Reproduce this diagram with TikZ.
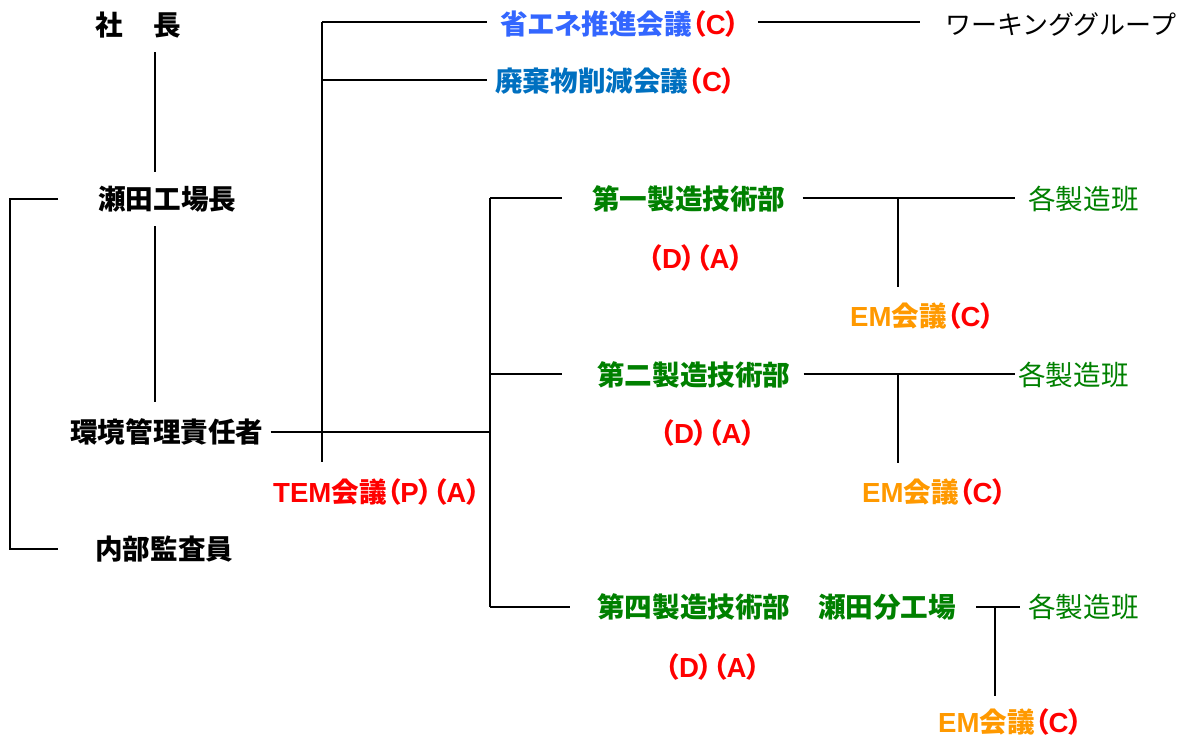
\documentclass[tikz,border=0pt]{standalone}
\usepackage{fontspec}
\setmainfont{Noto Sans CJK JP}[RawFeature=+palt]
\newfontfamily\plainjp{Noto Sans CJK JP}
\newfontfamily\latfont{Liberation Sans}
\newcommand{\lt}[1]{{\latfont\bfseries #1}}
\definecolor{blueA}{HTML}{3366FF}
\definecolor{blueB}{HTML}{0070C0}
\definecolor{grn}{HTML}{008000}
\definecolor{org}{HTML}{FF9900}
\definecolor{rd}{HTML}{FF0000}
\begin{document}
\begin{tikzpicture}[x=1pt,y=-1pt,
  every node/.style={inner sep=0pt, anchor=west, font=\fontsize{27.6}{30}\selectfont\bfseries},
  blk/.style={text=black},
  blueAtxt/.style={text=blueA},
  blueBtxt/.style={text=blueB},
  grntxt/.style={text=grn},
  grnlight/.style={text=grn, font=\fontsize{27.6}{30}\selectfont\plainjp},
  redtxt/.style={text=rd},
  orgtxt/.style={text=org},
  ln/.style={line width=1.6pt, black}]
\useasboundingbox (0,0) rectangle (1186,740);
% left column
\node[blk] (shacho) at (95,25) {社\hspace{31pt}長};
\node[blk] (setacho) at (98,199) {瀬田工場長};
\node[blk] (kankyo) at (70,432) {環境管理責任者};
\node[blk] (naibu) at (95,549) {内部監査員};
% meetings
\node[blueAtxt] (shoene) at (500,24) {省エネ推進会議\textcolor{rd}{（\lt{C}）}};
\node[font=\fontsize{26}{30}\selectfont\plainjp] (wg) at (945,24) {ワーキンググループ};
\node[blueBtxt] (haiki) at (495,81) {廃棄物削減会議\textcolor{rd}{（\lt{C}）}};
\node[redtxt] (tem) at (273,492) {\lt{TEM}会議（\lt{P}）（\lt{A}）};
% departments
\node[grntxt] (dai1) at (592,199) {第一製造技術部};
\node[redtxt] (da1) at (648,258) {（\lt{D}）（\lt{A}）};
\node[grnlight] (han1) at (1028,199) {各製造班};
\node[orgtxt] (em1) at (850,316) {\lt{EM}会議\textcolor{rd}{（\lt{C}）}};
\node[grntxt] (dai2) at (597,375) {第二製造技術部};
\node[redtxt] (da2) at (660,433) {（\lt{D}）（\lt{A}）};
\node[grnlight] (han2) at (1018,375) {各製造班};
\node[orgtxt] (em2) at (862,492) {\lt{EM}会議\textcolor{rd}{（\lt{C}）}};
\node[grntxt] (dai4) at (597,607) {第四製造技術部\hspace{27.6pt}瀬田分工場};
\node[redtxt] (da4) at (665,667) {（\lt{D}）（\lt{A}）};
\node[grnlight] (han4) at (1028,607) {各製造班};
\node[orgtxt] (em4) at (938,722) {\lt{EM}会議\textcolor{rd}{（\lt{C}）}};
% junctions
\coordinate (j1) at (322,22);
\coordinate (j2) at (322,80);
\coordinate (j3) at (322,462);
\coordinate (k1) at (490,198);
\coordinate (k2) at (490,374);
\coordinate (k3) at (490,432);
\coordinate (k4) at (490,607);
\coordinate (m1) at (898,198);
\coordinate (m2) at (898,374);
\coordinate (m4) at (995,607);
% connectors
\draw[ln] ([yshift=-14pt]shacho.south -| 155,0) -- ([yshift=14pt]setacho.north -| 155,0);
\draw[ln] ([yshift=-14pt]setacho.south -| 155,0) -- ([yshift=16pt]kankyo.north -| 155,0);
\draw[ln] ([xshift=-40pt]setacho.west) -- ++(-48,0) |- ([xshift=-37pt]naibu.west);
\draw[ln] ([xshift=7pt]kankyo.east) -- (k3);
\draw[ln] (j1) -- (j3);
\draw[ln] (j1) -- ([xshift=-13pt]shoene.west |- j1);
\draw[ln] (j2) -- ([xshift=-8pt]haiki.west |- j2);
\draw[ln] ([xshift=18pt]shoene.east |- j1) -- ([xshift=-25pt]wg.west |- j1);
\draw[ln] (k1) -- (k4);
\draw[ln] (k1) -- ([xshift=-30pt]dai1.west |- k1);
\draw[ln] (k2) -- ([xshift=-35pt]dai2.west |- k2);
\draw[ln] (k4) -- ([xshift=-27pt]dai4.west |- k4);
\draw[ln] ([xshift=17pt]dai1.east |- m1) -- ([xshift=-13pt]han1.west |- m1);
\draw[ln] (m1) -- ([yshift=15pt]m1 |- em1.north);
\draw[ln] ([xshift=13pt]dai2.east |- m2) -- ([xshift=-3pt]han2.west |- m2);
\draw[ln] (m2) -- ([yshift=15pt]m2 |- em2.north);
\draw[ln] ([xshift=20pt]dai4.east |- m4) -- ([xshift=-8pt]han4.west |- m4);
\draw[ln] (m4) -- ([yshift=12pt]m4 |- em4.north);
\end{tikzpicture}
\end{document}
